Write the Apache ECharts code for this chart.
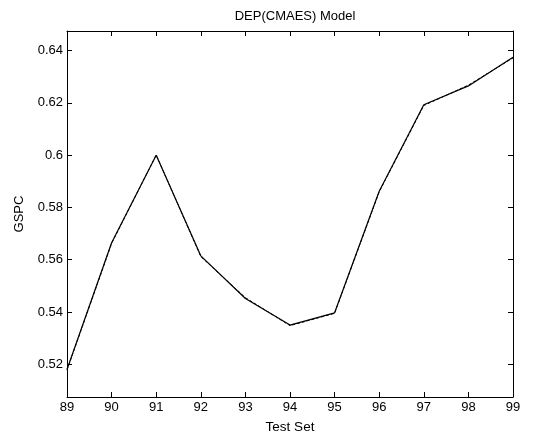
<!DOCTYPE html>
<html>
<head>
<meta charset="utf-8">
<script src="https://cdn.jsdelivr.net/npm/echarts@6/dist/echarts.min.js"></script>
<style>html,body{margin:0;padding:0;background:#fff;}#c{width:548px;height:439px;}</style>
</head>
<body>
<div id="c"></div>
<script>
var testSet = [89, 90, 91, 92, 93, 94, 95, 96, 97, 98, 99];
var actual = [0.518, 0.5665, 0.600, 0.5615, 0.5452, 0.535, 0.5397, 0.5862, 0.6193, 0.6265, 0.6375];
var predicted = [0.5178, 0.5662, 0.6001, 0.5612, 0.5455, 0.5348, 0.5395, 0.5860, 0.6190, 0.6268, 0.6372];
var xTicks = [89, 90, 91, 92, 93, 94, 95, 96, 97, 98, 99];
var yTicks = [0.52, 0.54, 0.56, 0.58, 0.6, 0.62, 0.64];

var font = 'Liberation Sans, Arial, Helvetica, sans-serif';
var fs = 13;
function pts(arr){ return testSet.map(function(x,i){ return [x, arr[i]]; }); }
var tickStyle = {show:true, inside:true, length:5, lineStyle:{color:'#000', width:1}};
var chart = echarts.init(document.getElementById('c'));
chart.setOption({
  animation:false,
  backgroundColor:'#fff',
  title:{text:'DEP(CMAES) Model', left:290, textAlign:'center', top:5, textStyle:{fontFamily:font, fontSize:fs, fontWeight:'normal', color:'#000'}},
  grid:{left:67, right:35, top:31, bottom:39, show:false},
  xAxis:[{
    type:'value', min:89, max:99, position:'bottom',
    name:'Test Set', nameLocation:'middle', nameGap:23,
    nameTextStyle:{fontFamily:font, fontSize:fs+0.5, color:'#000'},
    axisLine:{show:true, lineStyle:{color:'#000', width:1}},
    axisTick:Object.assign({customValues:xTicks}, tickStyle),
    axisLabel:{customValues:xTicks, fontFamily:font, fontSize:fs, color:'#000', margin:4},
    splitLine:{show:false}
  },{
    type:'value', min:89, max:99, position:'top',
    axisLine:{show:true, lineStyle:{color:'#000', width:1}},
    axisTick:Object.assign({customValues:xTicks}, tickStyle),
    axisLabel:{show:false}, splitLine:{show:false}
  }],
  yAxis:[{
    type:'value', min:0.5075, max:0.6475, position:'left',
    name:'GSPC', nameLocation:'middle', nameGap:41, nameRotate:90,
    nameTextStyle:{fontFamily:font, fontSize:fs, color:'#000'},
    axisLine:{show:true, lineStyle:{color:'#000', width:1}},
    axisTick:Object.assign({customValues:yTicks}, tickStyle),
    axisLabel:{customValues:yTicks, fontFamily:font, fontSize:fs, color:'#000', margin:4,
      formatter:function(v){ return String(+v.toFixed(2)); }},
    splitLine:{show:false}
  },{
    type:'value', min:0.5075, max:0.6475, position:'right',
    axisLine:{show:true, lineStyle:{color:'#000', width:1}},
    axisTick:Object.assign({customValues:yTicks}, tickStyle),
    axisLabel:{show:false}, splitLine:{show:false}
  }],
  series:[{
    type:'line', name:'Actual', data:pts(actual), showSymbol:false, xAxisIndex:0, yAxisIndex:0,
    lineStyle:{color:'#000', width:1.2}
  },{
    type:'line', name:'Predicted', data:pts(predicted), showSymbol:false, xAxisIndex:0, yAxisIndex:0,
    lineStyle:{color:'#000', width:1, type:[3,2]}
  }]
});
</script>
</body>
</html>
